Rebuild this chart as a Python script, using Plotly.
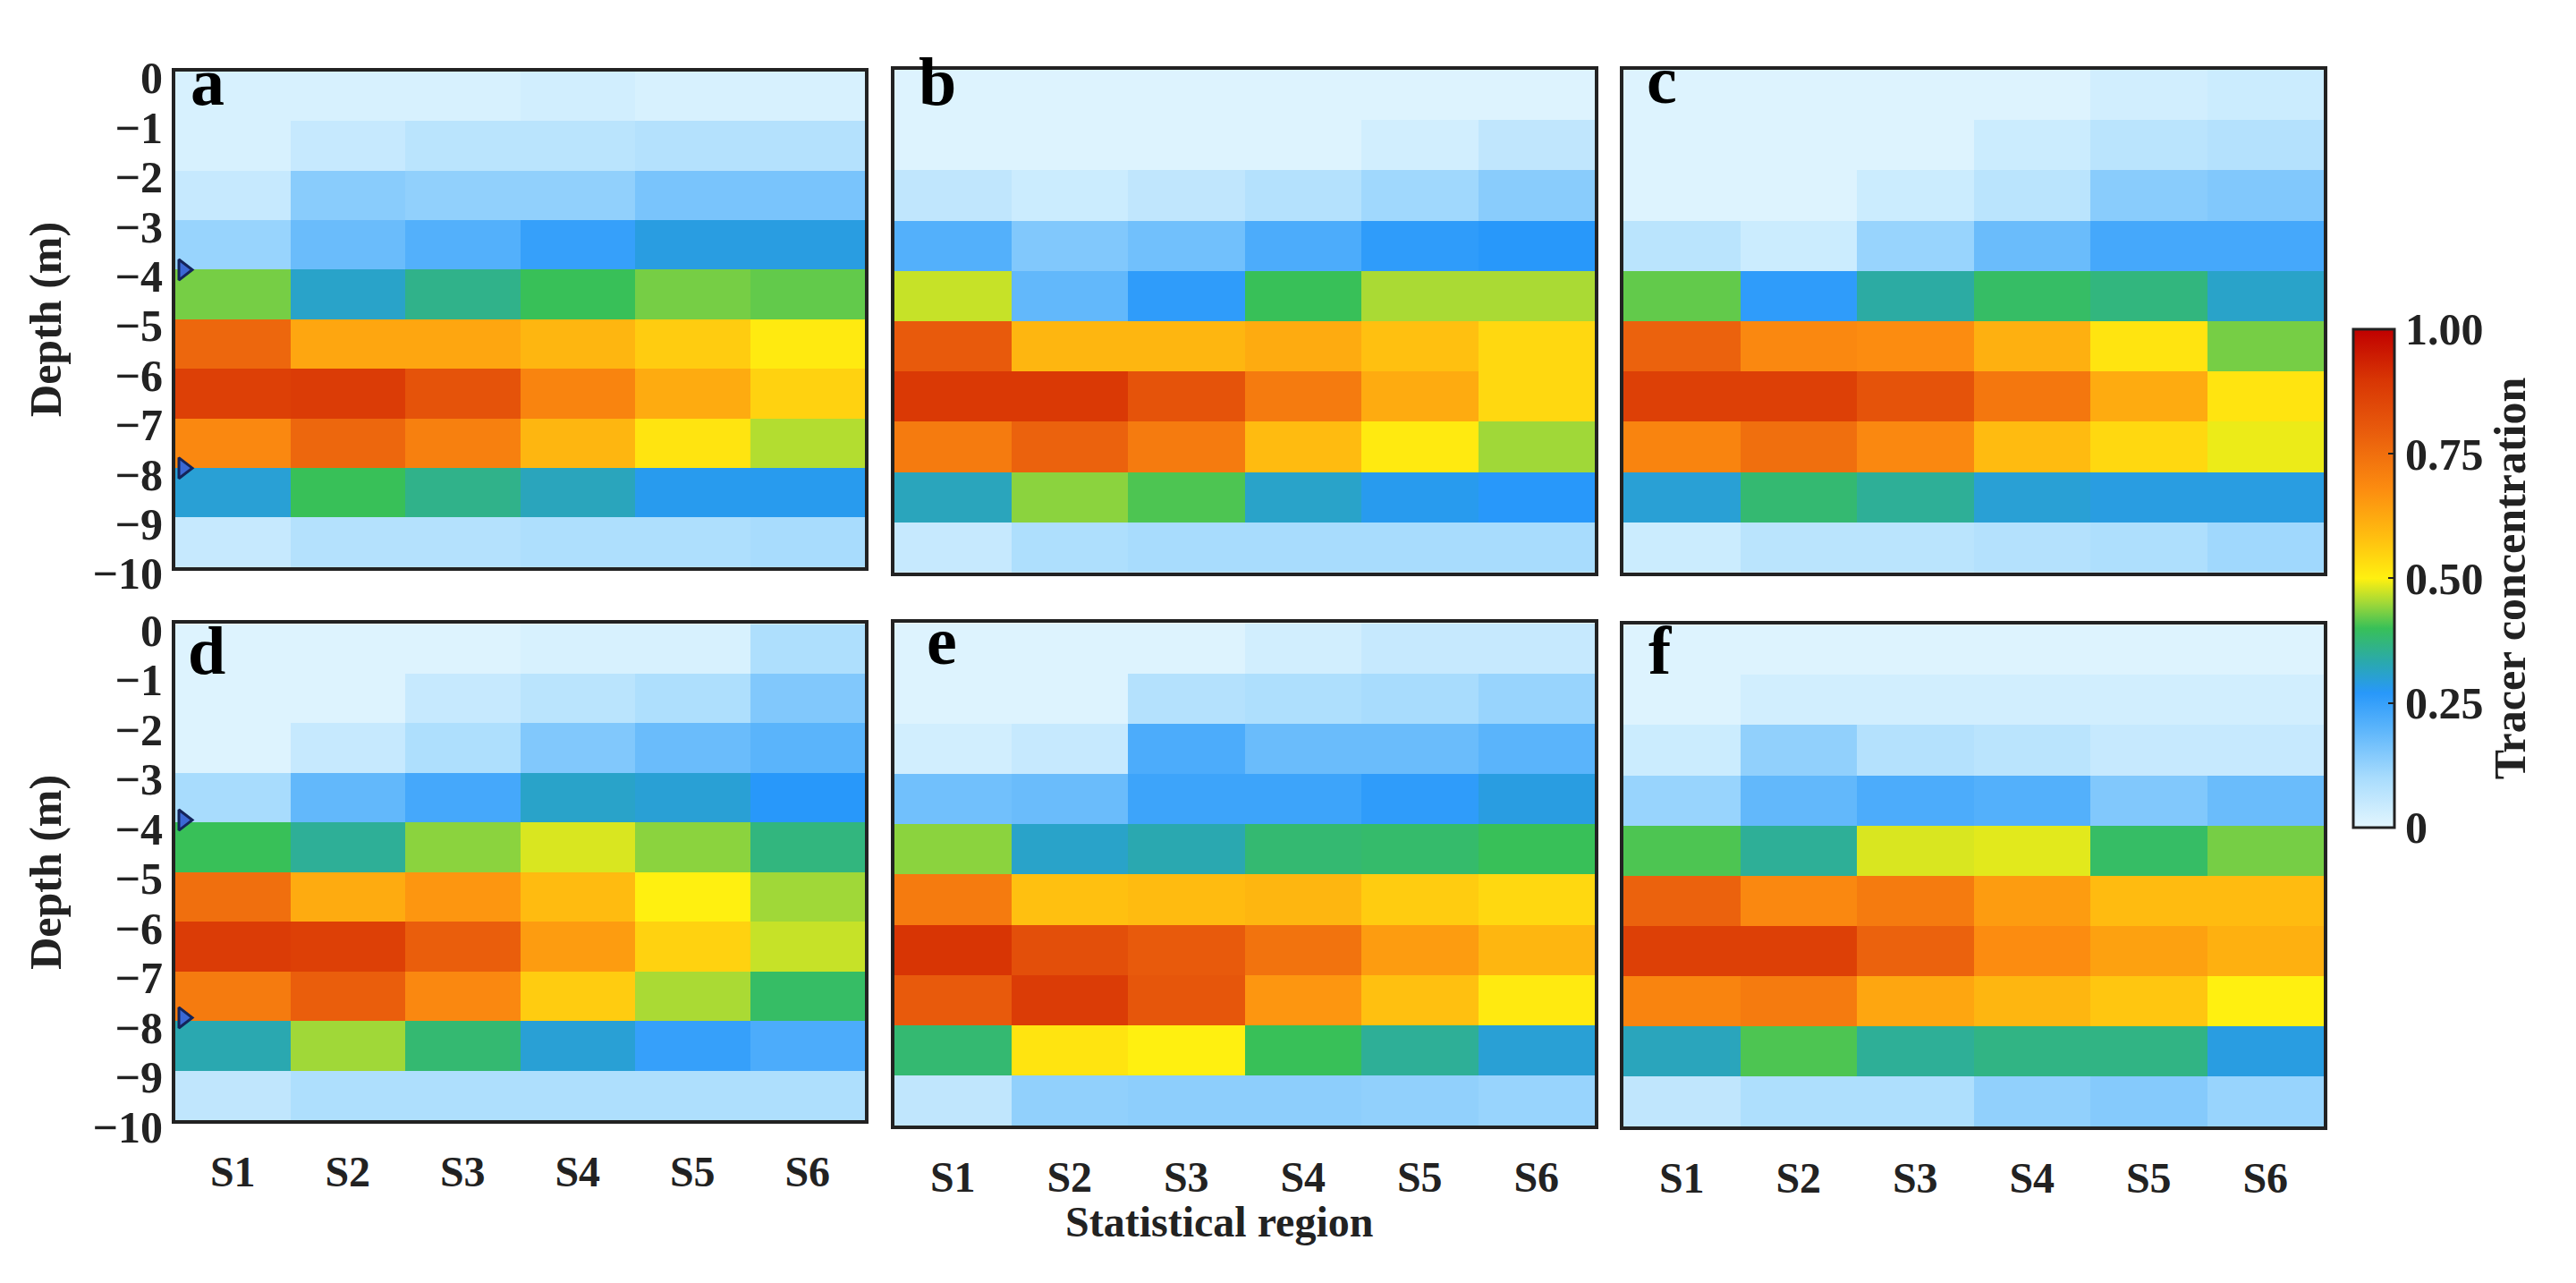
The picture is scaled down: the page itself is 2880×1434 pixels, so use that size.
import plotly.graph_objects as go

W, H = 2880, 1434

regions = ["S1", "S2", "S3", "S4", "S5", "S6"]
region_pos = [1, 2, 3, 4, 5, 6]
depth_mid = [-0.5, -1.5, -2.5, -3.5, -4.5, -5.5, -6.5, -7.5, -8.5, -9.5]
depth_ticks = [0, -1, -2, -3, -4, -5, -6, -7, -8, -9, -10]
cbar_ticks = [0, 0.25, 0.5, 0.75, 1.0]
cbar_text = ["0", "0.25", "0.50", "0.75", "1.00"]
marker_depth_a = [-4.0, -8.0]
marker_depth_d = [-3.95, -7.93]

# tracer concentration, rows top (0 to -1 m) to bottom (-9 to -10 m), columns S1..S6
panel_a = [
    [0.02, 0.02, 0.02, 0.03, 0.02, 0.02],
    [0.02, 0.05, 0.07, 0.07, 0.08, 0.08],
    [0.05, 0.14, 0.13, 0.13, 0.16, 0.16],
    [0.12, 0.18, 0.21, 0.25, 0.29, 0.29],
    [0.43, 0.31, 0.36, 0.40, 0.43, 0.42],
    [0.77, 0.63, 0.63, 0.60, 0.56, 0.51],
    [0.87, 0.88, 0.82, 0.70, 0.62, 0.55],
    [0.69, 0.77, 0.71, 0.60, 0.52, 0.46],
    [0.30, 0.40, 0.36, 0.32, 0.28, 0.28],
    [0.05, 0.08, 0.08, 0.09, 0.09, 0.10],
]
panel_b = [
    [0.01, 0.01, 0.01, 0.01, 0.01, 0.01],
    [0.01, 0.01, 0.01, 0.01, 0.03, 0.06],
    [0.06, 0.04, 0.06, 0.08, 0.11, 0.14],
    [0.21, 0.15, 0.17, 0.22, 0.26, 0.27],
    [0.47, 0.19, 0.26, 0.40, 0.455, 0.455],
    [0.80, 0.60, 0.60, 0.62, 0.58, 0.54],
    [0.89, 0.89, 0.82, 0.72, 0.62, 0.54],
    [0.72, 0.78, 0.72, 0.59, 0.51, 0.45],
    [0.32, 0.44, 0.41, 0.31, 0.28, 0.27],
    [0.05, 0.09, 0.10, 0.10, 0.10, 0.10],
]
panel_c = [
    [0.01, 0.01, 0.01, 0.01, 0.03, 0.04],
    [0.01, 0.01, 0.01, 0.04, 0.07, 0.08],
    [0.01, 0.01, 0.04, 0.07, 0.14, 0.15],
    [0.07, 0.04, 0.12, 0.18, 0.23, 0.23],
    [0.42, 0.26, 0.34, 0.39, 0.37, 0.31],
    [0.78, 0.69, 0.68, 0.61, 0.52, 0.43],
    [0.87, 0.87, 0.82, 0.73, 0.62, 0.52],
    [0.70, 0.75, 0.69, 0.59, 0.54, 0.49],
    [0.30, 0.38, 0.35, 0.30, 0.29, 0.29],
    [0.04, 0.07, 0.07, 0.08, 0.09, 0.11],
]
panel_d = [
    [0.01, 0.01, 0.01, 0.02, 0.02, 0.09],
    [0.01, 0.01, 0.05, 0.07, 0.09, 0.15],
    [0.01, 0.05, 0.09, 0.15, 0.18, 0.20],
    [0.10, 0.19, 0.23, 0.31, 0.30, 0.27],
    [0.40, 0.35, 0.44, 0.48, 0.44, 0.37],
    [0.75, 0.62, 0.66, 0.59, 0.50, 0.45],
    [0.88, 0.87, 0.79, 0.65, 0.55, 0.47],
    [0.72, 0.79, 0.69, 0.56, 0.455, 0.39],
    [0.33, 0.45, 0.38, 0.30, 0.25, 0.22],
    [0.06, 0.09, 0.09, 0.09, 0.09, 0.09],
]
panel_e = [
    [0.01, 0.01, 0.01, 0.03, 0.05, 0.05],
    [0.01, 0.01, 0.08, 0.09, 0.10, 0.12],
    [0.03, 0.05, 0.22, 0.18, 0.18, 0.20],
    [0.17, 0.18, 0.24, 0.24, 0.26, 0.29],
    [0.44, 0.31, 0.33, 0.38, 0.385, 0.40],
    [0.72, 0.58, 0.59, 0.60, 0.56, 0.54],
    [0.90, 0.83, 0.80, 0.74, 0.65, 0.60],
    [0.80, 0.88, 0.81, 0.66, 0.58, 0.51],
    [0.38, 0.52, 0.50, 0.40, 0.35, 0.30],
    [0.06, 0.13, 0.135, 0.135, 0.13, 0.12],
]
panel_f = [
    [0.01, 0.01, 0.01, 0.01, 0.01, 0.01],
    [0.01, 0.03, 0.03, 0.03, 0.03, 0.03],
    [0.04, 0.13, 0.08, 0.07, 0.05, 0.05],
    [0.12, 0.19, 0.22, 0.21, 0.15, 0.18],
    [0.41, 0.35, 0.48, 0.485, 0.39, 0.43],
    [0.78, 0.69, 0.72, 0.65, 0.59, 0.59],
    [0.87, 0.87, 0.78, 0.68, 0.64, 0.61],
    [0.70, 0.72, 0.63, 0.60, 0.57, 0.50],
    [0.32, 0.41, 0.35, 0.365, 0.365, 0.29],
    [0.06, 0.09, 0.09, 0.13, 0.145, 0.12],
]
panels = [panel_a, panel_b, panel_c, panel_d, panel_e, panel_f]
letters = ["a", "b", "c", "d", "e", "f"]

cmap = [
    [0.00, "#e3f6fe"],
    [0.10, "#a8dcfd"],
    [0.20, "#5ab4fb"],
    [0.27, "#2898fa"],
    [0.33, "#2aa8b0"],
    [0.40, "#38c058"],
    [0.45, "#a0d838"],
    [0.50, "#fff010"],
    [0.58, "#ffc010"],
    [0.68, "#fc8c10"],
    [0.80, "#e85a0c"],
    [0.90, "#d83504"],
    [1.00, "#c00000"],
]

# panel boxes in pixels (left, right, top, bottom)
boxes = [
    (188, 959, 53, 630), (992, 1775, 51, 636), (1807, 2590, 51, 636),
    (188, 959, 696, 1274), (992, 1775, 695, 1280), (1807, 2590, 697, 1281),
]
# panel letter placement in pixels (left of glyph, baseline)
letter_pos = [(213, 99), (1027, 99), (1841, 97), (210, 761), (1036, 750), (1843, 761)]

font_family = "Liberation Serif"
ink = "#222222"

fig = go.Figure()
for i, z in enumerate(panels):
    n = "" if i == 0 else str(i + 1)
    fig.add_trace(go.Heatmap(
        x=region_pos, y=depth_mid, z=z, coloraxis="coloraxis",
        xaxis="x" + n, yaxis="y" + n,
    ))
    l, r, t, b = boxes[i]
    fig.layout["xaxis" + n] = dict(
        domain=[l / W, r / W], anchor="y" + n, range=[0.5, 6.5],
        tickvals=region_pos, ticktext=regions, showticklabels=i >= 3,
        showline=True, mirror=True, linecolor=ink, linewidth=4,
        ticks="", showgrid=False, zeroline=False, ticklabelstandoff=12,
        tickfont=dict(size=48, family=font_family, color=ink, weight="bold"),
    )
    fig.layout["yaxis" + n] = dict(
        domain=[1 - b / H, 1 - t / H], anchor="x" + n, range=[-10, 0],
        tickvals=depth_ticks, showticklabels=i in (0, 3), ticklabelshift=7,
        showline=True, mirror=True, linecolor=ink, linewidth=4,
        ticks="", showgrid=False, zeroline=False,
        tickfont=dict(size=50, family=font_family, color=ink, weight="bold"),
    )
    lx, base = letter_pos[i]
    fig.add_annotation(
        x=(lx - 10) / W, y=1 - (base - 80) / H, xref="paper", yref="paper",
        text=letters[i], showarrow=False, xanchor="left", yanchor="top",
        font=dict(size=76, family=font_family, color="black", weight="bold"),
    )

for n, depths in (("", marker_depth_a), ("4", marker_depth_d)):
    fig.add_trace(go.Scatter(
        x=[0.57] * len(depths), y=depths, mode="markers",
        xaxis="x" + n, yaxis="y" + n, cliponaxis=False, showlegend=False,
        marker=dict(symbol="triangle-right", size=20, color="#3b68d4",
                    line=dict(color="#14245a", width=3)),
    ))

fig.layout.yaxis.title = dict(text="Depth (m)", standoff=20,
                              font=dict(size=50, family=font_family, color=ink, weight="bold"))
fig.layout.yaxis4.title = dict(text="Depth (m)", standoff=20,
                               font=dict(size=50, family=font_family, color=ink, weight="bold"))

fig.add_annotation(
    x=1355 / W, y=1 - 1392 / H, xref="paper", yref="paper",
    text="Statistical region", showarrow=False, xanchor="center", yanchor="middle",
    font=dict(size=48, family=font_family, color=ink, weight="bold"),
)

fig.update_layout(
    width=W, height=H, margin=dict(l=0, r=0, t=0, b=0),
    paper_bgcolor="white", plot_bgcolor="white", showlegend=False,
    coloraxis=dict(
        colorscale=cmap, cmin=0, cmax=1,
        colorbar=dict(
            x=2623 / W, xanchor="left", xpad=0, y=1 - 643 / H, yanchor="middle", ypad=0,
            len=580 / H, lenmode="fraction", thickness=46, thicknessmode="pixels",
            outlinewidth=3, outlinecolor=ink,
            tickvals=cbar_ticks, ticktext=cbar_text, ticks="inside",
            ticklen=8, tickwidth=2, tickcolor=ink,
            tickfont=dict(size=50, family=font_family, color=ink, weight="bold"),
            title=dict(text="Tracer concentration", side="right",
                       font=dict(size=50, family=font_family, color=ink, weight="bold")),
        ),
    ),
)

fig.write_html("out.html")
